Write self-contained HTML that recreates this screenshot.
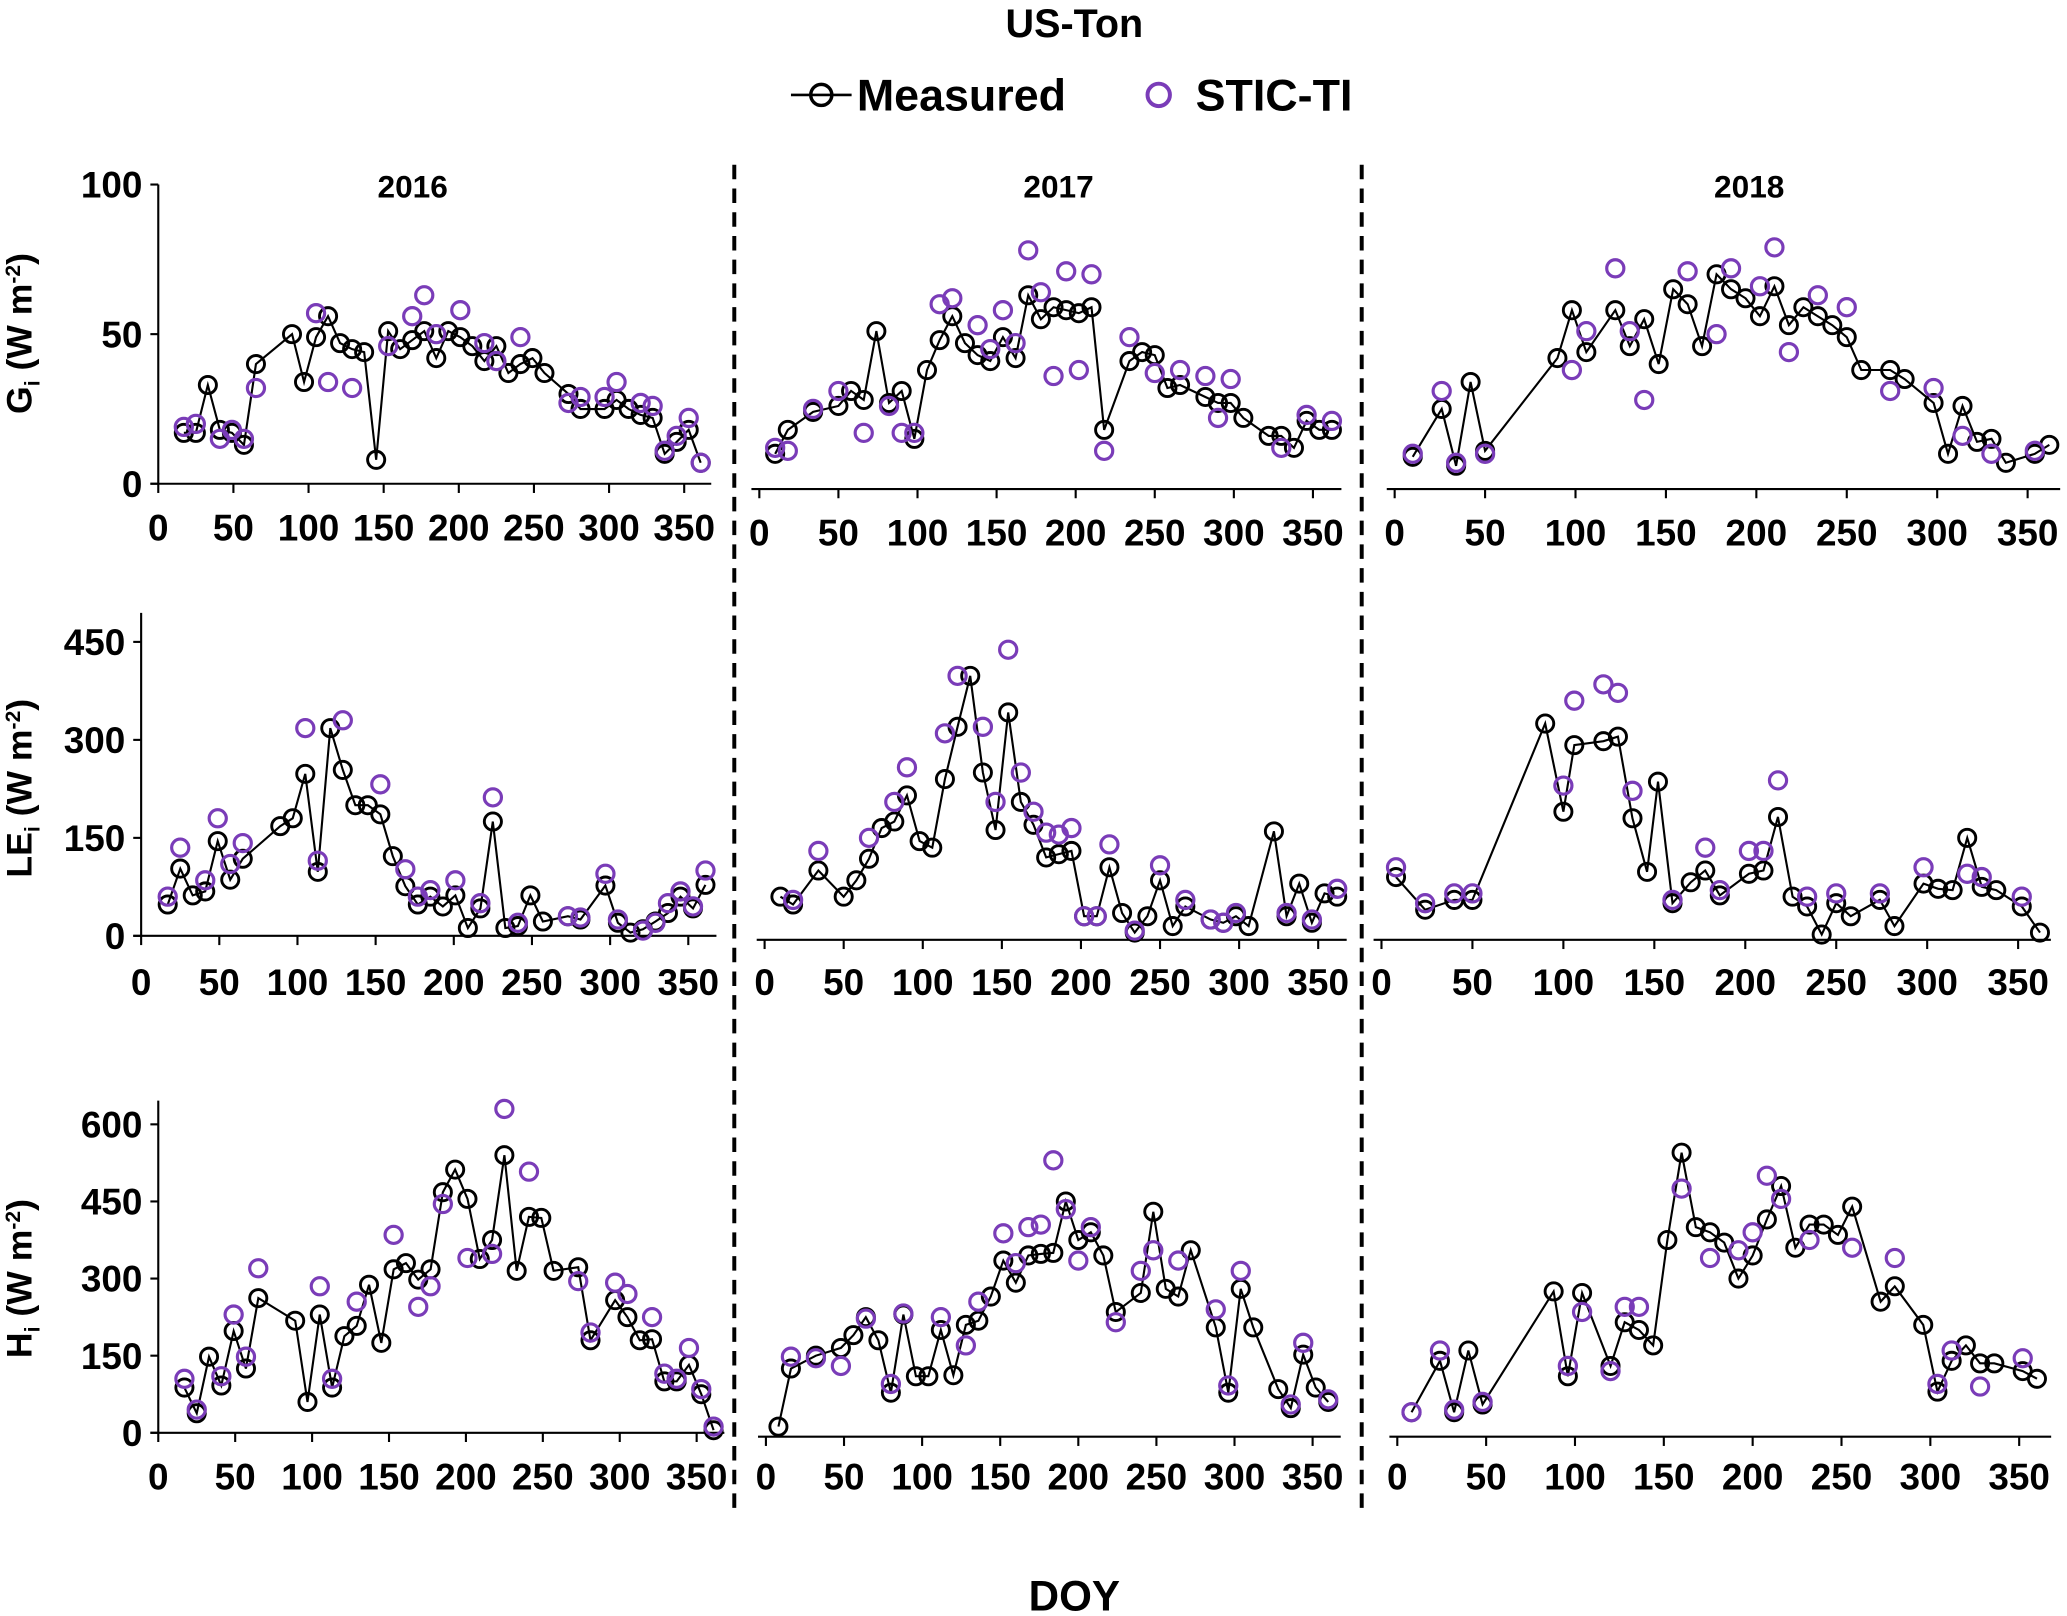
<!DOCTYPE html>
<html><head><meta charset="utf-8"><style>
html,body{margin:0;padding:0;background:#fff}
svg{display:block}
text{font-family:"Liberation Sans",Arial,sans-serif;font-weight:bold;fill:#000}
</style></head><body>
<svg id="chart" width="2067" height="1616" viewBox="0 0 1568 1226" xmlns="http://www.w3.org/2000/svg">
<text x="815" y="28" font-size="30" text-anchor="middle">US-Ton</text>
<g>
<line x1="600" y1="72" x2="646" y2="72" stroke="#000" stroke-width="2"/>
<circle cx="623" cy="72" r="8" fill="none" stroke="#000" stroke-width="2.6"/>
<text x="650" y="84" font-size="34">Measured</text>
<circle cx="879" cy="72" r="8.5" fill="none" stroke="#7a3cb8" stroke-width="3"/>
<text x="907" y="84" font-size="34">STIC-TI</text>
</g>
<text x="313" y="150" font-size="24" text-anchor="middle">2016</text>
<text x="803" y="150" font-size="24" text-anchor="middle">2017</text>
<text x="1327" y="150" font-size="24" text-anchor="middle">2018</text>
<line x1="557" y1="125" x2="557" y2="1148" stroke="#000" stroke-width="3" stroke-dasharray="11,7"/>
<line x1="1033" y1="125" x2="1033" y2="1148" stroke="#000" stroke-width="3" stroke-dasharray="11,7"/>
<text transform="translate(24,253) rotate(-90)" font-size="27" text-anchor="middle">G<tspan font-size="16" dy="6">i</tspan><tspan dy="-6"> (W m</tspan><tspan font-size="16" dy="-9">-2</tspan><tspan dy="9">)</tspan></text>
<text transform="translate(24,598) rotate(-90)" font-size="27" text-anchor="middle">LE<tspan font-size="16" dy="6">i</tspan><tspan dy="-6"> (W m</tspan><tspan font-size="16" dy="-9">-2</tspan><tspan dy="9">)</tspan></text>
<text transform="translate(24,970) rotate(-90)" font-size="27" text-anchor="middle">H<tspan font-size="16" dy="6">i</tspan><tspan dy="-6"> (W m</tspan><tspan font-size="16" dy="-9">-2</tspan><tspan dy="9">)</tspan></text>
<text x="815" y="1222" font-size="32" text-anchor="middle">DOY</text>
<g id="plots"></g>
</svg>
<script>
// ---- data (DOY, value) ----
const gMeas16Doy=[17,25,33,41,49,57,65,89,97,105,113,121,129,137,145,153,161,169,177,185,193,201,209,217,225,233,241,249,257,273,281,297,305,313,321,329,337,345,353,361];
const gMeas16Val=[17,17,33,18,17,13,40,50,34,49,56,47,45,44,8,51,45,48,51,42,51,49,46,41,46,37,40,42,37,30,25,25,28,25,23,22,10,14,18,7];
const gStic16Doy=[17,25,41,49,57,65,105,113,129,153,169,177,185,201,217,225,241,273,281,297,305,321,329,337,345,353,361];
const gStic16Val=[19,20,15,18,15,32,57,34,32,46,56,63,50,58,47,41,49,27,29,29,34,27,26,11,16,22,7];
const gMeas17Doy=[10,18,34,50,58,66,74,82,90,98,106,114,122,130,138,146,154,162,170,178,186,194,202,210,218,234,242,250,258,266,282,290,298,306,322,330,338,346,354,362];
const gMeas17Val=[10,18,24,26,31,28,51,27,31,15,38,48,56,47,43,41,49,42,63,55,59,58,57,59,18,41,44,43,32,33,29,27,27,22,16,16,12,21,18,18];
const gStic17Doy=[10,18,34,50,66,82,90,98,114,122,138,146,154,162,170,178,186,194,202,210,218,234,250,266,282,290,298,330,346,362];
const gStic17Val=[12,11,25,31,17,26,17,17,60,62,53,45,58,47,78,64,36,71,38,70,11,49,37,38,36,22,35,12,23,21];
const gMeas18Doy=[10,26,34,42,50,90,98,106,122,130,138,146,154,162,170,178,186,194,202,210,218,226,234,242,250,258,274,282,298,306,314,322,330,338,354,362];
const gMeas18Val=[9,25,6,34,11,42,58,44,58,46,55,40,65,60,46,70,65,62,56,66,53,59,56,53,49,38,38,35,27,10,26,14,15,7,10,13];
const gStic18Doy=[10,26,34,50,98,106,122,130,138,162,178,186,202,210,218,234,250,274,298,314,330,354];
const gStic18Val=[10,31,7,10,38,51,72,51,28,71,50,72,66,79,44,63,59,31,32,16,10,11];

const leMeas16Doy=[17,25,33,41,49,57,65,89,97,105,113,121,129,137,145,153,161,169,177,185,193,201,209,217,225,233,241,249,257,273,281,297,305,313,321,329,337,345,353,361];
const leMeas16Val=[48,103,62,68,145,86,118,168,180,248,98,318,254,200,200,186,122,76,48,60,45,62,12,42,175,12,15,62,22,30,25,77,20,5,10,22,35,60,42,78];
const leStic16Doy=[17,25,41,49,57,65,105,113,129,153,169,177,185,201,217,225,241,273,281,297,305,321,329,337,345,353,361];
const leStic16Val=[60,135,85,180,110,142,318,115,330,232,102,60,70,85,50,212,20,30,28,95,25,8,20,50,68,45,100];
const leMeas17Doy=[10,18,34,50,58,66,74,82,90,98,106,114,122,130,138,146,154,162,170,178,186,194,202,210,218,226,234,242,250,258,266,282,290,298,306,322,330,338,346,354,362];
const leMeas17Val=[60,48,100,60,85,118,165,175,215,145,135,240,320,398,250,162,342,205,170,120,125,130,30,30,105,35,5,30,85,15,45,25,20,30,15,160,30,80,20,65,60];
const leStic17Doy=[18,34,66,82,90,114,122,138,146,154,162,170,178,186,194,202,210,218,234,250,266,282,290,298,330,346,362];
const leStic17Val=[55,130,150,205,258,310,398,320,205,438,250,190,158,155,165,30,30,140,8,108,55,25,20,35,35,25,72];
const leMeas18Doy=[8,24,40,50,90,100,106,122,130,138,146,152,160,170,178,186,202,210,218,226,234,242,250,258,274,282,298,306,314,322,330,338,352,362];
const leMeas18Val=[90,40,55,55,325,190,292,298,305,180,98,236,50,82,100,62,95,100,182,60,45,2,50,30,55,15,80,72,70,150,75,70,45,5];
const leStic18Doy=[8,24,40,50,100,106,122,130,138,160,178,186,202,210,218,234,250,274,298,322,330,352];
const leStic18Val=[105,50,65,65,230,360,385,372,222,55,135,70,130,130,238,60,65,65,105,95,90,60];

const hMeas16Doy=[17,25,33,41,49,57,65,89,97,105,113,121,129,137,145,153,161,169,177,185,193,201,209,217,225,233,241,249,257,273,281,297,305,313,321,329,337,345,353,361];
const hMeas16Val=[88,38,148,92,198,125,262,218,60,230,88,188,208,288,175,318,330,298,318,468,512,455,338,375,540,315,420,418,315,322,180,258,225,180,182,100,100,132,75,5];
const hStic16Doy=[17,25,41,49,57,65,105,113,129,153,169,177,185,201,217,225,241,273,281,297,305,321,329,337,345,353,361];
const hStic16Val=[105,45,110,230,148,320,285,105,255,385,245,285,445,340,348,630,508,295,195,292,270,225,115,105,165,85,12];
const hMeas17Doy=[8,16,32,48,56,64,72,80,88,96,104,112,120,128,136,144,152,160,168,176,184,192,200,208,216,224,240,248,256,264,272,288,296,304,312,328,336,344,352,360];
const hMeas17Val=[12,125,150,165,190,225,180,78,230,110,110,200,112,210,218,265,335,292,345,348,350,450,375,390,345,235,272,430,280,265,355,205,78,280,205,85,48,152,88,60];
const hStic17Doy=[16,32,48,64,80,88,112,128,136,152,160,168,176,184,192,200,208,224,240,248,264,288,296,304,336,344,360];
const hStic17Val=[148,145,130,222,95,232,225,170,255,388,330,400,405,530,435,335,400,215,315,355,335,240,92,315,55,175,65];
const hMeas18Doy=[8,24,32,40,48,88,96,104,120,128,136,144,152,160,168,176,184,192,200,208,216,224,232,240,248,256,272,280,296,304,312,320,328,336,352,360];
const hMeas18Val=[40,140,40,160,55,275,110,272,130,215,200,170,375,545,400,390,370,300,345,415,480,360,405,405,385,440,255,285,210,80,140,170,135,135,120,105];
const hStic18Doy=[8,24,32,48,96,104,120,128,136,160,176,192,200,208,216,232,256,280,304,312,328,352];
const hStic18Val=[40,160,45,60,130,235,120,245,245,475,340,355,390,500,455,375,360,340,95,160,90,145];

const xTicks=[0,50,100,150,200,250,300,350];
const gTicks=[0,50,100], leTicks=[0,150,300,450], hTicks=[0,150,300,450,600];

const NS="http://www.w3.org/2000/svg";
const root=document.getElementById('plots');
function mk(tag,attrs,parent){const e=document.createElementNS(NS,tag);for(const k in attrs)e.setAttribute(k,attrs[k]);(parent||root).appendChild(e);return e;}

const panels=[
 {name:'g-2016',x0:120,kx:1.14,y0:367,ky:2.27,axisY:367,yaxis:{top:140,ticks:gTicks},md:gMeas16Doy,mv:gMeas16Val,sd:gStic16Doy,sv:gStic16Val,lab:400},
 {name:'g-2017',x0:576,kx:1.2,y0:367,ky:2.27,axisY:371,md:gMeas17Doy,mv:gMeas17Val,sd:gStic17Doy,sv:gStic17Val,lab:404},
 {name:'g-2018',x0:1058,kx:1.372,y0:367,ky:2.27,axisY:371,md:gMeas18Doy,mv:gMeas18Val,sd:gStic18Doy,sv:gStic18Val,lab:404},
 {name:'le-2016',x0:107,kx:1.186,y0:710,ky:0.4956,axisY:710,yaxis:{top:465,ticks:leTicks},md:leMeas16Doy,mv:leMeas16Val,sd:leStic16Doy,sv:leStic16Val,lab:745},
 {name:'le-2017',x0:580,kx:1.2,y0:710,ky:0.4956,axisY:713,md:leMeas17Doy,mv:leMeas17Val,sd:leStic17Doy,sv:leStic17Val,lab:745},
 {name:'le-2018',x0:1048,kx:1.38,y0:710,ky:0.4956,axisY:713,md:leMeas18Doy,mv:leMeas18Val,sd:leStic18Doy,sv:leStic18Val,lab:745},
 {name:'h-2016',x0:120,kx:1.167,y0:1087,ky:0.39,axisY:1087,yaxis:{top:835,ticks:hTicks},md:hMeas16Doy,mv:hMeas16Val,sd:hStic16Doy,sv:hStic16Val,lab:1120},
 {name:'h-2017',x0:581,kx:1.185,y0:1087,ky:0.39,axisY:1090,md:hMeas17Doy,mv:hMeas17Val,sd:hStic17Doy,sv:hStic17Val,lab:1120},
 {name:'h-2018',x0:1060,kx:1.348,y0:1087,ky:0.39,axisY:1090,md:hMeas18Doy,mv:hMeas18Val,sd:hStic18Doy,sv:hStic18Val,lab:1120}
];

panels.forEach(p=>{
 const xs=d=>p.x0+d*p.kx, ys=v=>p.y0-v*p.ky;
 const g=mk('g',{});
 
 
 const ax=mk('line',{x1:p.x0-6,y1:p.axisY,x2:xs(368),y2:p.axisY,stroke:'#000','stroke-width':1.6},g);
 
 
 xTicks.forEach(t=>{
  const tk=mk('line',{x1:xs(t),y1:p.axisY,x2:xs(t),y2:p.axisY+7,stroke:'#000','stroke-width':1.6},g);
  
  
  const tl=mk('text',{x:xs(t),y:p.lab+10,'font-size':28,'text-anchor':'middle'},g);
  tl.textContent=t;
  
  
 });
 if(p.yaxis){
  const ya=mk('line',{x1:p.x0,y1:p.yaxis.top,x2:p.x0,y2:p.y0,stroke:'#000','stroke-width':1.6},g);
  
  
  p.yaxis.ticks.forEach(t=>{
   const tk=mk('line',{x1:p.x0-6,y1:ys(t),x2:p.x0,y2:ys(t),stroke:'#000','stroke-width':1.6},g);
   
   
   const tl=mk('text',{x:p.x0-12,y:ys(t)+10,'font-size':28,'text-anchor':'end'},g);
   tl.textContent=t;
   
   
  });
 }
 const pts=p.md.map((d,i)=>xs(d).toFixed(1)+','+ys(p.mv[i]).toFixed(1)).join(' ');
 const pl=mk('polyline',{points:pts,fill:'none',stroke:'#000','stroke-width':1.6},g);
 
 
 p.md.forEach((d,i)=>{
  const c=mk('circle',{cx:xs(d),cy:ys(p.mv[i]),r:6.5,fill:'none',stroke:'#000','stroke-width':2.2},g);
  
  
 });
 p.sd.forEach((d,i)=>{
  const c=mk('circle',{cx:xs(d),cy:ys(p.sv[i]),r:6.5,fill:'none',stroke:'#7a3cb8','stroke-width':2.4},g);
  
  
 });
});
</script>
</body></html>
